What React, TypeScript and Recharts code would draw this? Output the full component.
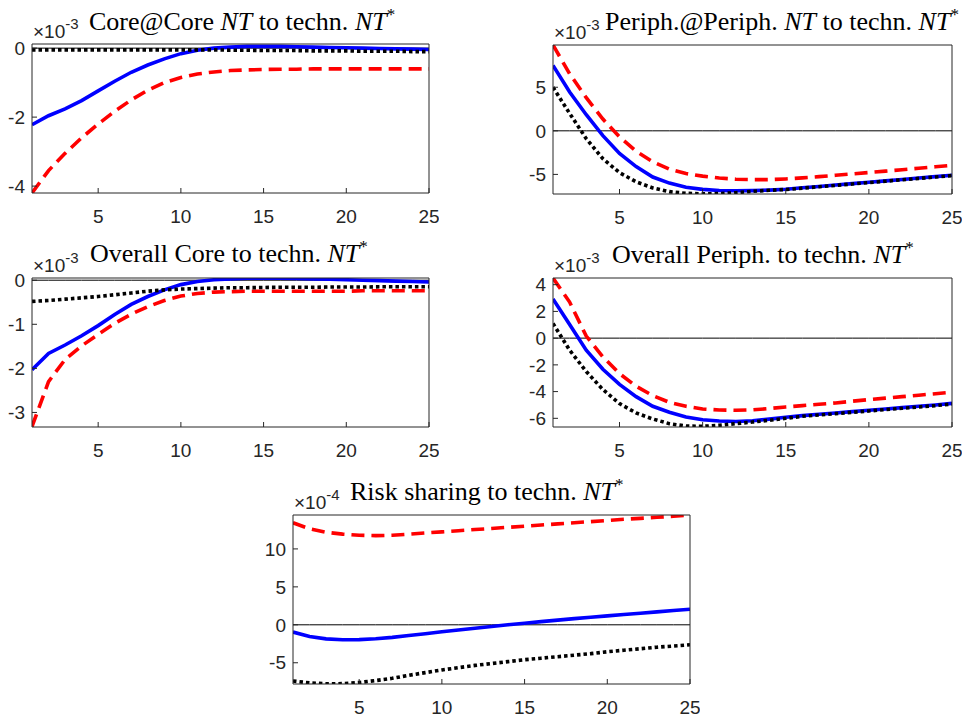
import React from 'react';
import { LineChart, Line, XAxis, YAxis } from 'recharts';

const periods = [1, 2, 3, 4, 5, 6, 7, 8, 9, 10, 11, 12, 13, 14, 15, 16, 17, 18, 19, 20, 21, 22, 23, 24, 25];
const xTicks = [5, 10, 15, 20, 25];

// Panel 1: Core@Core NT (x10^-3)
const coreCoreBlue = [-2.22, -1.96, -1.76, -1.52, -1.24, -0.96, -0.7, -0.49, -0.31, -0.16, -0.06, 0, 0.03, 0.05, 0.05, 0.05, 0.04, 0.03, 0.02, 0.01, 0, -0.01, -0.02, -0.03, -0.04];
const coreCoreRed = [-4.2, -3.55, -3.05, -2.6, -2.2, -1.83, -1.5, -1.22, -1.0, -0.85, -0.75, -0.69, -0.65, -0.63, -0.62, -0.61, -0.61, -0.6, -0.6, -0.6, -0.6, -0.6, -0.6, -0.6, -0.6];
const coreCoreBlack = [-0.05, -0.05, -0.05, -0.05, -0.05, -0.05, -0.05, -0.05, -0.05, -0.05, -0.05, -0.05, -0.06, -0.06, -0.07, -0.07, -0.07, -0.08, -0.08, -0.08, -0.09, -0.09, -0.09, -0.1, -0.1];
const coreCoreTicks = [-4, -2, 0];

// Panel 2: Periph.@Periph. NT (x10^-3)
const periphPeriphBlue = [7.5, 4.45, 1.85, -0.55, -2.6, -4.1, -5.3, -6.0, -6.48, -6.72, -6.85, -6.88, -6.86, -6.8, -6.7, -6.54, -6.38, -6.22, -6.06, -5.9, -5.74, -5.58, -5.42, -5.26, -5.1];
const periphPeriphRed = [9.85, 6.55, 3.8, 1.35, -0.7, -2.35, -3.55, -4.4, -4.9, -5.2, -5.42, -5.55, -5.6, -5.6, -5.52, -5.4, -5.26, -5.1, -4.94, -4.78, -4.62, -4.46, -4.3, -4.13, -3.95];
const periphPeriphBlack = [5.0, 2.0, -0.9, -3.2, -4.8, -5.85, -6.55, -6.98, -7.17, -7.23, -7.2, -7.1, -6.95, -6.82, -6.74, -6.58, -6.42, -6.26, -6.1, -5.94, -5.78, -5.62, -5.46, -5.3, -5.14];
const periphPeriphTicks = [-5, 0, 5];

// Panel 3: Overall Core (x10^-3)
const overallCoreBlue = [-2.03, -1.66, -1.47, -1.26, -1.03, -0.78, -0.55, -0.37, -0.22, -0.1, -0.03, 0.01, 0.03, 0.045, 0.05, 0.045, 0.04, 0.03, 0.02, 0.01, 0, -0.01, -0.02, -0.03, -0.04];
const overallCoreRed = [-3.32, -2.3, -1.8, -1.49, -1.23, -0.98, -0.77, -0.6, -0.46, -0.36, -0.3, -0.27, -0.26, -0.25, -0.25, -0.25, -0.25, -0.25, -0.25, -0.25, -0.24, -0.24, -0.24, -0.24, -0.24];
const overallCoreBlack = [-0.48, -0.46, -0.43, -0.4, -0.37, -0.33, -0.29, -0.25, -0.22, -0.2, -0.19, -0.18, -0.17, -0.17, -0.165, -0.16, -0.16, -0.16, -0.155, -0.155, -0.155, -0.15, -0.15, -0.15, -0.15];
const overallCoreTicks = [-3, -2, -1, 0];

// Panel 4: Overall Periph. (x10^-3)
const overallPeriphBlue = [2.93, 1.02, -0.9, -2.33, -3.46, -4.38, -5.1, -5.55, -5.9, -6.11, -6.2, -6.24, -6.18, -6.06, -5.92, -5.8, -5.7, -5.6, -5.5, -5.4, -5.3, -5.2, -5.1, -5.0, -4.88];
const overallPeriphRed = [4.5, 2.7, 0.15, -1.4, -2.65, -3.6, -4.3, -4.8, -5.1, -5.3, -5.38, -5.4, -5.37, -5.27, -5.15, -5.05, -4.95, -4.85, -4.72, -4.6, -4.49, -4.38, -4.27, -4.16, -4.05];
const overallPeriphBlack = [1.1, -0.9, -2.5, -3.85, -4.9, -5.6, -6.05, -6.4, -6.58, -6.6, -6.52, -6.4, -6.28, -6.15, -6.0, -5.85, -5.75, -5.65, -5.55, -5.45, -5.35, -5.25, -5.15, -5.05, -4.93];
const overallPeriphTicks = [-6, -4, -2, 0, 2, 4];

// Panel 5: Risk sharing (x10^-4)
const riskBlue = [-0.95, -1.55, -1.85, -1.96, -1.95, -1.84, -1.66, -1.42, -1.17, -0.92, -0.68, -0.45, -0.22, 0.0, 0.2, 0.42, 0.62, 0.82, 1.0, 1.18, 1.35, 1.52, 1.7, 1.88, 2.06];
const riskRed = [13.45, 12.65, 12.2, 11.95, 11.8, 11.75, 11.8, 11.95, 12.1, 12.25, 12.4, 12.55, 12.7, 12.85, 13.0, 13.15, 13.3, 13.45, 13.6, 13.75, 13.9, 14.03, 14.17, 14.31, 14.45];
const riskBlack = [-7.4, -7.65, -7.78, -7.75, -7.6, -7.35, -7.05, -6.65, -6.3, -5.95, -5.65, -5.35, -5.1, -4.85, -4.6, -4.4, -4.2, -4.0, -3.8, -3.55, -3.35, -3.15, -2.95, -2.8, -2.63];
const riskTicks = [-5, 0, 5, 10];

const AXIS = '#262626';
const SANS = '"Liberation Sans", Arial, Helvetica, sans-serif';
const SERIF = '"Liberation Serif", "Times New Roman", serif';

type Cfg = {
  pre: string;
  italicNT: boolean;
  post: string;
  titleX: number;
  titleY: number;
  exp: string;
  left: number;
  top: number;
  w: number;
  h: number;
  domain: [number, number];
  yTicks: number[];
  blue: number[];
  red: number[];
  black: number[];
};

const panels: Cfg[] = [
  { pre: 'Core@Core ', italicNT: true, post: ' to techn. ', titleX: 89, titleY: 30, exp: '-3', left: 32, top: 44, w: 397, h: 149, domain: [-4.2, 0.12], yTicks: coreCoreTicks, blue: coreCoreBlue, red: coreCoreRed, black: coreCoreBlack },
  { pre: 'Periph.@Periph. ', italicNT: true, post: ' to techn. ', titleX: 605, titleY: 30, exp: '-3', left: 553, top: 45, w: 399, h: 149, domain: [-7.25, 9.85], yTicks: periphPeriphTicks, blue: periphPeriphBlue, red: periphPeriphRed, black: periphPeriphBlack },
  { pre: 'Overall Core to techn. ', italicNT: false, post: '', titleX: 90, titleY: 262, exp: '-3', left: 32, top: 278, w: 397, h: 149, domain: [-3.33, 0.05], yTicks: overallCoreTicks, blue: overallCoreBlue, red: overallCoreRed, black: overallCoreBlack },
  { pre: 'Overall Periph. to techn. ', italicNT: false, post: '', titleX: 612, titleY: 263, exp: '-3', left: 553, top: 278, w: 399, h: 149, domain: [-6.65, 4.5], yTicks: overallPeriphTicks, blue: overallPeriphBlue, red: overallPeriphRed, black: overallPeriphBlack },
  { pre: 'Risk sharing to techn. ', italicNT: false, post: '', titleX: 350, titleY: 500, exp: '-4', left: 293, top: 515, w: 397, h: 169, domain: [-7.8, 14.47], yTicks: riskTicks, blue: riskBlue, red: riskRed, black: riskBlack },
];

const L = 45;
const T = 10;
const R = 10;
const B = 45;

function Panel({ cfg }: { cfg: Cfg }) {
  const data = periods.map((p, i) => ({ t: p, zero: 0, blue: cfg.blue[i], red: cfg.red[i], black: cfg.black[i] }));
  const tickStyle = { fill: AXIS, fontSize: 19, fontFamily: SANS };
  return (
    <div style={{ position: 'absolute', left: cfg.left - L, top: cfg.top - T }}>
      <LineChart width={L + cfg.w + R} height={T + cfg.h + B} data={data} margin={{ top: T - 1, right: R - 1, left: 0, bottom: 0 }}>
        <XAxis dataKey="t" type="number" domain={[1, 25]} ticks={xTicks} allowDataOverflow interval={0} height={B} tickSize={-5} tickMargin={22} stroke={AXIS} tick={tickStyle} />
        <XAxis xAxisId="top" orientation="top" dataKey="t" type="number" domain={[1, 25]} ticks={xTicks} allowDataOverflow interval={0} height={1} tickSize={-5} tick={false} stroke={AXIS} />
        <YAxis type="number" domain={cfg.domain} ticks={cfg.yTicks} allowDataOverflow interval={0} width={L} tickSize={-5} tickMargin={12} stroke={AXIS} tick={tickStyle} />
        <YAxis yAxisId="right" orientation="right" type="number" domain={cfg.domain} ticks={cfg.yTicks} allowDataOverflow interval={0} width={1} tickSize={-5} tick={false} stroke={AXIS} />
        <Line dataKey="zero" type="linear" stroke="#000" strokeWidth={1} dot={false} activeDot={false} isAnimationActive={false} />
        <Line dataKey="blue" type="linear" stroke="#0000FF" strokeWidth={3.6} dot={false} activeDot={false} isAnimationActive={false} />
        <Line dataKey="red" type="linear" stroke="#FF0000" strokeWidth={3.6} strokeDasharray="13 7" dot={false} activeDot={false} isAnimationActive={false} />
        <Line dataKey="black" type="linear" stroke="#000" strokeWidth={3.6} strokeDasharray="3.5 3" dot={false} activeDot={false} isAnimationActive={false} />
      </LineChart>
    </div>
  );
}

export default function App() {
  return (
    <div style={{ position: 'absolute', left: 0, top: 0, width: 976, height: 722, background: '#fff', overflow: 'hidden' }}>
      {panels.map((p, i) => (
        <Panel key={i} cfg={p} />
      ))}
      <svg width={976} height={722} style={{ position: 'absolute', left: 0, top: 0, pointerEvents: 'none' }}>
        {panels.map((p, i) => (
          <g key={i}>
            <text x={p.titleX} y={p.titleY} fontFamily={SERIF} fontSize={26} fill="#000" style={{ whiteSpace: 'pre' }}>
              {p.pre}
              {p.italicNT ? <tspan fontStyle="italic">NT</tspan> : null}
              {p.post}
              <tspan fontStyle="italic">NT</tspan>
              <tspan fontSize={17} dy={-10}>*</tspan>
            </text>
            <text x={p.left + 1} y={p.top - 6} fontFamily={SANS} fontSize={19} fill={AXIS}>
              ×10<tspan fontSize={15} dy={-9}>{p.exp}</tspan>
            </text>
          </g>
        ))}
      </svg>
    </div>
  );
}
